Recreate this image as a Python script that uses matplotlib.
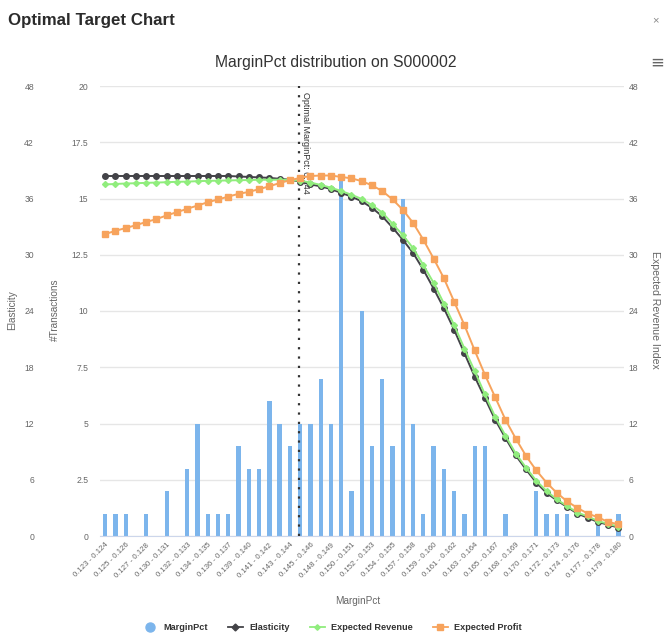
import numpy as np
import matplotlib
matplotlib.use("Agg")
import matplotlib.pyplot as plt
from matplotlib.lines import Line2D
import matplotlib.transforms as mtransforms

plt.rcParams['font.family'] = ['Liberation Sans', 'DejaVu Sans']

categories = [
    "0.123 - 0.124", "0.124 - 0.125", "0.125 - 0.126", "0.126 - 0.127", "0.127 - 0.128",
    "0.128 - 0.129", "0.130 - 0.131", "0.131 - 0.132", "0.132 - 0.133", "0.133 - 0.134",
    "0.134 - 0.135", "0.135 - 0.136", "0.136 - 0.137", "0.137 - 0.139", "0.139 - 0.140",
    "0.140 - 0.141", "0.141 - 0.142", "0.142 - 0.143", "0.143 - 0.144", "0.144 - 0.145",
    "0.145 - 0.146", "0.146 - 0.148", "0.148 - 0.149", "0.149 - 0.150", "0.150 - 0.151",
    "0.151 - 0.152", "0.152 - 0.153", "0.153 - 0.154", "0.154 - 0.155", "0.155 - 0.157",
    "0.157 - 0.158", "0.158 - 0.159", "0.159 - 0.160", "0.160 - 0.161", "0.161 - 0.162",
    "0.162 - 0.163", "0.163 - 0.164", "0.164 - 0.165", "0.165 - 0.167", "0.167 - 0.168",
    "0.168 - 0.169", "0.169 - 0.170", "0.170 - 0.171", "0.171 - 0.172", "0.172 - 0.173",
    "0.173 - 0.174", "0.174 - 0.176", "0.176 - 0.177", "0.177 - 0.178", "0.178 - 0.179",
    "0.179 - 0.180",
]

transactions = [1, 1, 1, 0, 1, 0, 2, 0, 3, 5, 1, 1, 1, 4, 3, 3, 6, 5, 4, 5,
                5, 7, 5, 16, 2, 10, 4, 7, 4, 15, 5, 1, 4, 3, 2, 1, 4, 4, 0, 1,
                0, 0, 2, 1, 1, 1, 0, 0, 1, 0, 1]

elasticity = [38.4, 38.4, 38.4, 38.4, 38.4, 38.4, 38.4, 38.4, 38.4, 38.4,
              38.4, 38.4, 38.4, 38.35, 38.3, 38.25, 38.2, 38.1, 38.0, 37.8,
              37.5, 37.3, 37.0, 36.6, 36.2, 35.7, 35.0, 34.1, 32.9, 31.6,
              30.2, 28.4, 26.4, 24.3, 22.0, 19.5, 17.0, 14.7, 12.4, 10.45,
              8.6, 7.1, 5.7, 4.6, 3.8, 3.1, 2.4, 1.95, 1.5, 1.2, 0.9]

expected_revenue = [37.5, 37.55, 37.6, 37.63, 37.67, 37.7, 37.74, 37.78, 37.8, 37.85,
                    37.88, 37.9, 37.93, 37.95, 37.97, 38.0, 38.0, 38.0, 37.98, 37.9,
                    37.7, 37.45, 37.15, 36.8, 36.4, 35.95, 35.3, 34.5, 33.3, 32.1,
                    30.7, 28.9, 27.0, 24.8, 22.5, 20.0, 17.6, 15.1, 12.7, 10.7,
                    8.8, 7.3, 5.9, 4.8, 3.9, 3.2, 2.5, 2.1, 1.6, 1.3, 1.0]

expected_profit = [32.2, 32.55, 32.85, 33.15, 33.5, 33.8, 34.2, 34.55, 34.9, 35.25,
                   35.6, 35.9, 36.2, 36.5, 36.7, 37.0, 37.3, 37.65, 37.95, 38.2,
                   38.4, 38.45, 38.45, 38.3, 38.15, 37.85, 37.4, 36.8, 35.9, 34.8,
                   33.4, 31.6, 29.6, 27.5, 25.0, 22.5, 19.8, 17.2, 14.8, 12.4,
                   10.4, 8.55, 7.0, 5.7, 4.6, 3.7, 3.0, 2.4, 2.0, 1.5, 1.25]

trans_ticks = [0, 2.5, 5, 7.5, 10, 12.5, 15, 17.5, 20]
trans_tick_labels = ["0", "2.5", "5", "7.5", "10", "12.5", "15", "17.5", "20"]
index_ticks = [0, 6, 12, 18, 24, 30, 36, 42, 48]
optimal_position = 18.9
optimal_label = "Optimal MarginPct: 0.144"

BLUE = '#7cb5ec'
BLACK = '#434348'
GREEN = '#90ed7d'
ORANGE = '#f7a35c'
TXT = '#666666'
DARK = '#333333'

W, H = 665, 635
fig = plt.figure(figsize=(W / 100, H / 100), dpi=100)
pl, pr, pt, pb = 100, 623.5, 86, 536
ax = fig.add_axes([pl / W, 1 - pb / H, (pr - pl) / W, (pb - pt) / H])

x = np.arange(len(categories))
ax.bar(x, transactions, width=0.42, color=BLUE, zorder=2)
ax.set_xlim(-0.5, len(categories) - 0.5)
ax.set_ylim(0, 20)
ax.set_yticks(trans_ticks)
ax.set_yticklabels(trans_tick_labels)
ax.yaxis.grid(True, color='#e6e6e6', lw=1)
ax.set_axisbelow(True)
for s in ['top', 'left', 'right']:
    ax.spines[s].set_visible(False)
ax.spines['bottom'].set_color('#ccd6eb')
ax.tick_params(axis='y', length=0, pad=8.5, labelsize=6.2, labelcolor=TXT)
ax.set_xticks(x[::2])
ax.set_xticklabels(categories[::2], rotation=45, ha='right', rotation_mode='anchor',
                   fontsize=5.6, color=TXT)
ax.tick_params(axis='x', length=0, pad=4)

# optimal line
ax.axvline(optimal_position, color=DARK, lw=1.6, dashes=(1, 3.2), zorder=3)
trans = mtransforms.blended_transform_factory(ax.transData, ax.transAxes)
ax.annotate(optimal_label, xy=(optimal_position, 1.0), xycoords=trans,
            xytext=(1.5, -4), textcoords='offset points', rotation=-90,
            ha='left', va='top', fontsize=6.5, color=DARK, zorder=6)

# elasticity axis (left outer)
ax2 = ax.twinx()
ax2.yaxis.tick_left()
ax2.spines['left'].set_position(('axes', -0.118))
for s in ['top', 'right', 'bottom', 'left']:
    ax2.spines[s].set_visible(False)
ax2.set_ylim(0, 48)
ax2.set_yticks(index_ticks)
ax2.tick_params(axis='y', length=0, pad=3, labelsize=6.2, labelcolor=TXT)
ax2.plot(x, elasticity, color=BLACK, lw=1.4, marker='o', markersize=4, zorder=4)

# right axis
ax3 = ax.twinx()
for s in ['top', 'right', 'bottom', 'left']:
    ax3.spines[s].set_visible(False)
ax3.set_ylim(0, 48)
ax3.set_yticks(index_ticks)
ax3.tick_params(axis='y', length=0, pad=3.5, labelsize=6.2, labelcolor=TXT)
ax3.plot(x, expected_revenue, color=GREEN, lw=1.4, marker='D', markersize=3, zorder=4)
ax3.plot(x, expected_profit, color=ORANGE, lw=1.4, marker='s', markersize=4.4, zorder=5)

# axis titles
fig.text(12 / W, 1 - 310 / H, "Elasticity", rotation=90, ha='center', va='center',
         fontsize=7.2, color=TXT)
fig.text(55 / W, 1 - 310 / H, "#Transactions", rotation=90, ha='center', va='center',
         fontsize=7.2, color=TXT)
fig.text(655 / W, 1 - 310 / H, "Expected Revenue Index", rotation=270, ha='center',
         va='center', fontsize=7.6, color=TXT)
fig.text(358 / W, 1 - 601 / H, "MarginPct", ha='center', va='center', fontsize=7.2, color=TXT)

# titles
fig.text(8 / W, 1 - 20 / H, "Optimal Target Chart", ha='left', va='center',
         fontsize=12.2, fontweight='bold', color='#2b2b2b')
fig.text(655 / W, 1 - 20 / H, "×", ha='center', va='center', fontsize=8, color='#888888')
fig.text(336 / W, 1 - 62 / H, "MarginPct distribution on S000002", ha='center',
         va='center', fontsize=11.3, color=DARK)
fig.text(657 / W, 1 - 63 / H, "≡", ha='center', va='center', fontsize=12, color='#666666',
         family='DejaVu Sans')

# legend
handles = [
    Line2D([], [], color=BLUE, marker='o', ls='none', markersize=6.5),
    Line2D([], [], color=BLACK, marker='D', lw=1.3, markersize=3.5),
    Line2D([], [], color=GREEN, marker='D', lw=1.3, markersize=2.8),
    Line2D([], [], color=ORANGE, marker='s', lw=1.3, markersize=4),
]
labels = ["MarginPct", "Elasticity", "Expected Revenue", "Expected Profit"]
fig.legend(handles, labels, loc='center', bbox_to_anchor=(332 / W, 1 - 628 / H), ncol=4,
           frameon=False, prop={'size': 6.6, 'weight': 'bold'}, labelcolor=DARK,
           handlelength=1.6, columnspacing=2.2, handletextpad=0.7)

fig.savefig("out.png", dpi=100)
